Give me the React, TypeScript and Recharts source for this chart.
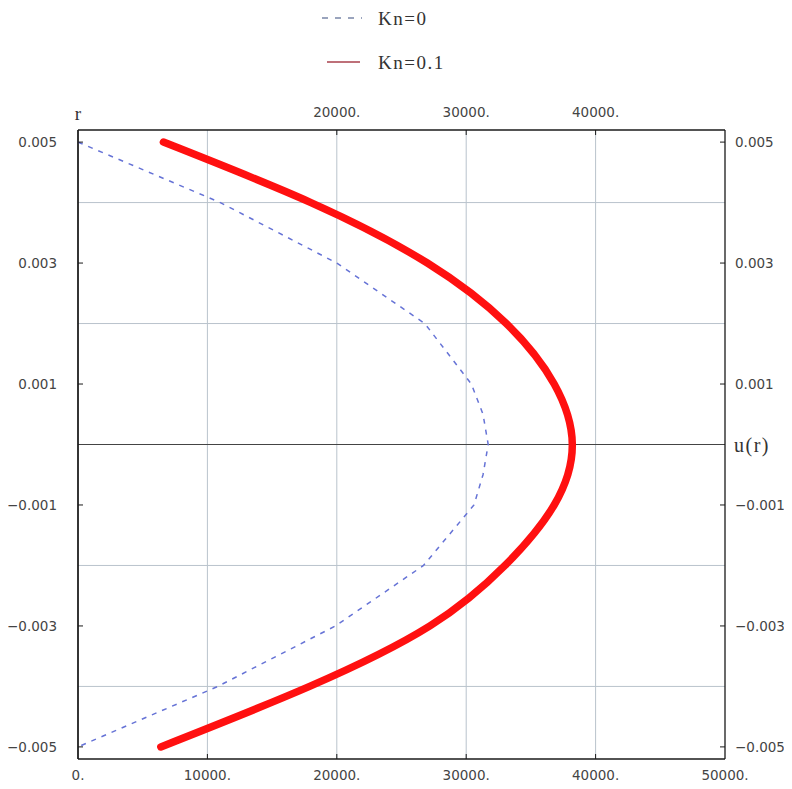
import React from 'react';
import {
  LineChart,
  Line,
  XAxis,
  YAxis,
  ReferenceLine,
  Legend,
} from 'recharts';

// ---- data ----
const rValues = [0.005, 0.004, 0.003, 0.002, 0.001, 0.0005, 0, -0.0005, -0.001, -0.002, -0.003, -0.004, -0.005];
const kn0Values = [0, 11000, 20000, 26800, 30400, 31300, 31700, 31300, 30600, 26700, 19900, 10800, 0];
const kn01Values = [6600, 18000, 27000, 33100, 36800, null, 38200, null, 36800, 33000, 27200, 17900, 6400];

const bottomTicks = [0, 10000, 20000, 30000, 40000, 50000];
const bottomTickLabels = ['0.', '10000.', '20000.', '30000.', '40000.', '50000.'];
const topTicks = [20000, 30000, 40000];
const topTickLabels = ['20000.', '30000.', '40000.'];
const rTicks = [0.005, 0.003, 0.001, -0.001, -0.003, -0.005];
const rTickLabels = ['0.005', '0.003', '0.001', '\u22120.001', '\u22120.003', '\u22120.005'];
const uGrid = [10000, 20000, 30000, 40000];
const rGrid = [0.004, 0.002, -0.002, -0.004];
const seriesNames = ['Kn=0', 'Kn=0.1'];

const data = rValues.map((r, i) => ({ r, kn0: kn0Values[i], kn01: kn01Values[i] }));

const W = 784;
const H = 781;
const TICK_FONT = '"DejaVu Sans", sans-serif';
const SERIF = '"Liberation Serif", "DejaVu Serif", serif';
const TICK_COLOR = '#444';
const FRAME = '#1a1a1a';
const GRID = '#b9c3cc';
const INNER_TICK = 5;
const TICK_SIZE = 13.5;

const labelFor = (values: number[], labels: string[], v: number) => {
  const idx = values.findIndex((t) => Math.abs(t - v) < 1e-9);
  return idx >= 0 ? labels[idx] : String(v);
};

const BottomTick = (props: any) => {
  const { x, y, payload } = props;
  const label = labelFor(bottomTicks, bottomTickLabels, payload.value);
  const edge = y - 16;
  const showLine = payload.value > 0 && payload.value < 50000;
  return (
    <g>
      {showLine && <line x1={x} x2={x} y1={edge} y2={edge - INNER_TICK} stroke={FRAME} strokeWidth={1} />}
      <text x={x} y={y} dy="0.35em" textAnchor="middle" fontFamily={TICK_FONT} fontSize={TICK_SIZE} fill={TICK_COLOR}>
        {label}
      </text>
    </g>
  );
};

const TopTick = (props: any) => {
  const { x, y, payload } = props;
  const label = labelFor(topTicks, topTickLabels, payload.value);
  const edge = y + 18;
  return (
    <g>
      <line x1={x} x2={x} y1={edge} y2={edge + INNER_TICK} stroke={FRAME} strokeWidth={1} />
      <text x={x} y={y} dy="0.35em" textAnchor="middle" fontFamily={TICK_FONT} fontSize={TICK_SIZE} fill={TICK_COLOR}>
        {label}
      </text>
    </g>
  );
};

const LeftTick = (props: any) => {
  const { x, y, payload } = props;
  const label = labelFor(rTicks, rTickLabels, payload.value);
  const edge = x + 21;
  return (
    <g>
      <line x1={edge} x2={edge + INNER_TICK} y1={y} y2={y} stroke={FRAME} strokeWidth={1} />
      <text x={x} y={y} dy="0.35em" textAnchor="end" fontFamily={TICK_FONT} fontSize={TICK_SIZE} fill={TICK_COLOR}>
        {label}
      </text>
    </g>
  );
};

const RightTick = (props: any) => {
  const { x, y, payload } = props;
  const label = labelFor(rTicks, rTickLabels, payload.value);
  const edge = x - 10;
  return (
    <g>
      <line x1={edge} x2={edge - INNER_TICK} y1={y} y2={y} stroke={FRAME} strokeWidth={1} />
      <text x={x} y={y} dy="0.35em" textAnchor="start" fontFamily={TICK_FONT} fontSize={TICK_SIZE} fill={TICK_COLOR}>
        {label}
      </text>
    </g>
  );
};

const LegendContent = () => (
  <div style={{ position: 'relative', width: W, height: 80 }}>
    <svg width={W} height={80} style={{ position: 'absolute', left: 0, top: 0 }}>
      <line x1={314} x2={354} y1={10} y2={10} stroke="#7a86a8" strokeWidth={1.6} strokeDasharray="6 7" />
      <text x={370} y={10} dy="0.35em" fontFamily={SERIF} fontSize={19} letterSpacing={1.5} fill="#333">
        {seriesNames[0]}
      </text>
      <line x1={319} x2={352} y1={54} y2={54} stroke="#a8404c" strokeWidth={1.6} />
      <text x={370} y={54} dy="0.35em" fontFamily={SERIF} fontSize={19} letterSpacing={1.5} fill="#333">
        {seriesNames[1]}
      </text>
    </svg>
  </div>
);

export default function App() {
  return (
    <div style={{ width: W, height: H, background: '#fff' }}>
      <LineChart
        width={W}
        height={H}
        data={data}
        layout="vertical"
        margin={{ top: 92, right: 7, bottom: 5, left: 10 }}
      >
        <XAxis
          xAxisId="bottom"
          type="number"
          orientation="bottom"
          domain={[0, 50000]}
          ticks={bottomTicks}
          allowDataOverflow
          height={25}
          tickSize={0}
          tickMargin={16}
          tickLine={false}
          axisLine={{ stroke: FRAME, strokeWidth: 1.3 }}
          tick={<BottomTick />}
          interval={0}
        />
        <XAxis
          xAxisId="top"
          type="number"
          orientation="top"
          domain={[0, 50000]}
          ticks={topTicks}
          allowDataOverflow
          height={30}
          tickSize={0}
          tickMargin={18}
          tickLine={false}
          axisLine={{ stroke: FRAME, strokeWidth: 1.3 }}
          tick={<TopTick />}
          interval={0}
        />
        <YAxis
          yAxisId="left"
          type="number"
          dataKey="r"
          orientation="left"
          domain={[-0.0052, 0.0052]}
          reversed
          ticks={rTicks}
          allowDataOverflow
          width={60}
          tickSize={0}
          tickMargin={21}
          tickLine={false}
          axisLine={{ stroke: FRAME, strokeWidth: 1.3 }}
          tick={<LeftTick />}
          interval={0}
        />
        <YAxis
          yAxisId="right"
          type="number"
          dataKey="r"
          orientation="right"
          domain={[-0.0052, 0.0052]}
          reversed
          ticks={rTicks}
          allowDataOverflow
          width={60}
          tickSize={0}
          tickMargin={10}
          tickLine={false}
          axisLine={{ stroke: FRAME, strokeWidth: 1.3 }}
          tick={<RightTick />}
          interval={0}
        />
        {uGrid.map((u) => (
          <ReferenceLine key={`u${u}`} x={u} xAxisId="bottom" yAxisId="left" stroke={GRID} strokeWidth={1} />
        ))}
        {rGrid.map((r) => (
          <ReferenceLine key={`r${r}`} y={r} xAxisId="bottom" yAxisId="left" stroke={GRID} strokeWidth={1} />
        ))}
        <ReferenceLine
          y={0}
          xAxisId="bottom"
          yAxisId="left"
          stroke="#444"
          strokeWidth={1.2}
          label={{
            value: 'u(r)',
            position: 'right',
            offset: 9,
            fontFamily: SERIF,
            fontSize: 20,
            letterSpacing: 1.5,
            fill: '#333',
          }}
        />
        <ReferenceLine
          x={0}
          xAxisId="bottom"
          yAxisId="left"
          stroke={FRAME}
          strokeWidth={1.3}
          label={{
            value: 'r',
            position: 'top',
            offset: 10,
            fontFamily: SERIF,
            fontSize: 19,
            fill: '#333',
          }}
        />
        <Legend
          layout="horizontal"
          verticalAlign="middle"
          align="center"
          content={<LegendContent />}
          wrapperStyle={{ position: 'absolute', top: 0, left: 0, width: W, height: 80 }}
        />
        <Line
          name={seriesNames[0]}
          dataKey="kn0"
          xAxisId="bottom"
          yAxisId="left"
          type="linear"
          stroke="#6673d6"
          strokeWidth={1.5}
          strokeDasharray="5 6"
          dot={false}
          activeDot={false}
          isAnimationActive={false}
        />
        <Line
          name={seriesNames[1]}
          dataKey="kn01"
          xAxisId="bottom"
          yAxisId="left"
          type="natural"
          connectNulls
          stroke="#ff1010"
          strokeWidth={7.5}
          strokeLinecap="round"
          dot={false}
          activeDot={false}
          isAnimationActive={false}
        />
      </LineChart>
    </div>
  );
}
